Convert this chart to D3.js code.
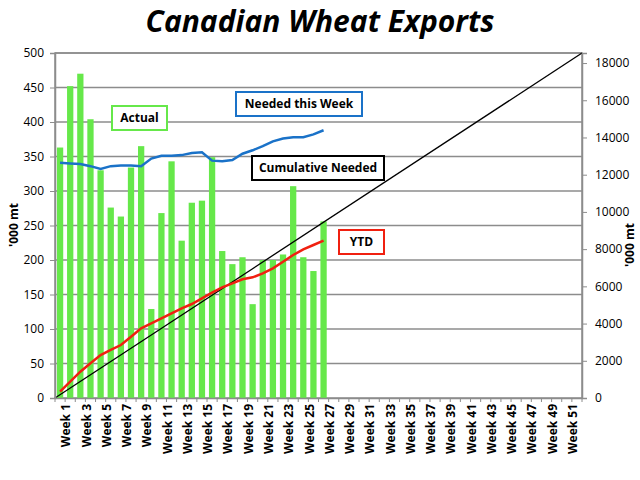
<!DOCTYPE html>
<html><head><meta charset="utf-8">
<script src="https://cdn.jsdelivr.net/npm/d3@7"></script>
<style>body{margin:0;background:#fff;font-family:"Open Sans",sans-serif}</style>
</head><body>
<script>
var weeks = d3.range(1, 53).map(function(i){ return "Week " + i; });
var actual = [363,452,470,404,330,276,263,334,365,129,268,343,228,283,286,349,213,194,204,136,200,200,208,307,204,184,256];
var neededWeek = [341,340,339,336,332,336,337,337,336,347,351,351,352,355,356,344,343,345,354,359,365,372,376,378,378,382,388];
var ytd = [338,876,1413,1864,2310,2580,2848,3294,3745,4014,4282,4551,4820,5051,5357,5658,5948,6163,6378,6485,6700,6969,7324,7684,7990,8221,8452];
var cumNeeded = [0, 18540];
var leftTicks = d3.range(0, 501, 50);
var rightTicks = d3.range(0, 18001, 2000);

var W = 640, H = 480, L = 55, R = 582, T = 53, B = 398;
var svg = d3.select("body").append("svg").attr("width", W).attr("height", H);

var x = d3.scaleBand().domain(weeks).range([L, R]).paddingInner(0.38).paddingOuter(0.19);
var xl = d3.scaleLinear().domain([0, 52]).range([L, R]);
var yL = d3.scaleLinear().domain([0, 500]).range([B, T]);
var yR = d3.scaleLinear().domain([0, 18540]).range([B, T]);

svg.append("text").attr("x", 320).attr("y", 32).attr("text-anchor", "middle")
    .attr("font-size", 30).attr("font-weight", "bold").attr("font-style", "italic").text("Canadian Wheat Exports");

svg.append("g").selectAll("line").data(leftTicks.slice(1)).join("line")
    .attr("x1", L).attr("x2", R).attr("y1", yL).attr("y2", yL)
    .attr("stroke", "#8c8c8c").attr("stroke-width", 1.5);
svg.append("rect").attr("x", L).attr("y", T).attr("width", R - L).attr("height", B - T)
    .attr("fill", "none").attr("stroke", "#8c8c8c").attr("stroke-width", 1.5);

svg.append("g").selectAll("rect").data(actual).join("rect")
    .attr("x", function(d, i){ return x(weeks[i]); }).attr("width", x.bandwidth())
    .attr("y", yL).attr("height", function(d){ return B - yL(d); }).attr("fill", "#66e84a");

svg.append("line").attr("x1", xl(0)).attr("y1", yR(cumNeeded[0])).attr("x2", xl(52)).attr("y2", yR(cumNeeded[1]))
    .attr("stroke", "#000").attr("stroke-width", 1.3);

var cx = function(d, i){ return x(weeks[i]) + x.bandwidth() / 2; };
svg.append("path").datum(neededWeek).attr("fill", "none").attr("stroke", "#1a72c8").attr("stroke-width", 2.5)
    .attr("d", d3.line().x(cx).y(function(d){ return yL(d); }));
svg.append("path").datum(ytd).attr("fill", "none").attr("stroke", "#f02010").attr("stroke-width", 2.5)
    .attr("d", d3.line().x(cx).y(function(d){ return yR(d); }));

var gl = svg.append("g").attr("transform", "translate(" + L + ",0)")
    .call(d3.axisLeft(yL).tickValues(leftTicks).tickSize(5).tickPadding(6));
var gr = svg.append("g").attr("transform", "translate(" + R + ",0)")
    .call(d3.axisRight(yR).tickValues(rightTicks).tickFormat(d3.format("d")).tickSize(5).tickPadding(8));
var gb = svg.append("g").attr("transform", "translate(0," + B + ")")
    .call(d3.axisBottom(x).tickValues(weeks.filter(function(d, i){ return i % 2 == 0; })).tickSize(0).tickPadding(6));
gb.selectAll("text").attr("transform", "rotate(-90)").attr("text-anchor", "end").attr("dx", "-0.5em").attr("dy", "0.35em");
svg.append("g").selectAll("line").data(d3.range(0, 53)).join("line")
    .attr("x1", xl).attr("x2", xl).attr("y1", B).attr("y2", B + 4).attr("stroke", "#8c8c8c");
[gl, gr, gb].forEach(function(g){
    g.select(".domain").attr("stroke", "#8c8c8c").attr("stroke-width", 1.5);
    g.selectAll(".tick line").attr("stroke", "#8c8c8c");
    g.selectAll("text").attr("font-size", 12).attr("font-family", "Open Sans, sans-serif").attr("fill", "#000");
});
gb.selectAll("text").attr("font-weight", "bold");

svg.append("text").attr("transform", "translate(18,225) rotate(-90)").attr("text-anchor", "middle")
    .attr("font-size", 12).attr("font-weight", "bold").text("'000 mt");
svg.append("text").attr("transform", "translate(634,245) rotate(-90)").attr("text-anchor", "middle")
    .attr("font-size", 12).attr("font-weight", "bold").text("'000 mt");

var labels = [
    {t: "Actual", x: 112, y: 106, w: 55, c: "#66e84a"},
    {t: "Needed this Week", x: 236, y: 92, w: 126, c: "#1a72c8"},
    {t: "Cumulative Needed", x: 252, y: 156, w: 132, c: "#000"},
    {t: "YTD", x: 339, y: 230, w: 45, c: "#f02010"}
];
var lg = svg.append("g").selectAll("g").data(labels).join("g");
lg.append("rect").attr("x", function(d){ return d.x; }).attr("y", function(d){ return d.y; })
    .attr("width", function(d){ return d.w; }).attr("height", 24).attr("fill", "#fff")
    .attr("stroke", function(d){ return d.c; }).attr("stroke-width", 2);
lg.append("text").attr("x", function(d){ return d.x + d.w / 2; }).attr("y", function(d){ return d.y + 16; })
    .attr("text-anchor", "middle").attr("font-size", 12).attr("font-weight", "bold").text(function(d){ return d.t; });
</script>
</body></html>
